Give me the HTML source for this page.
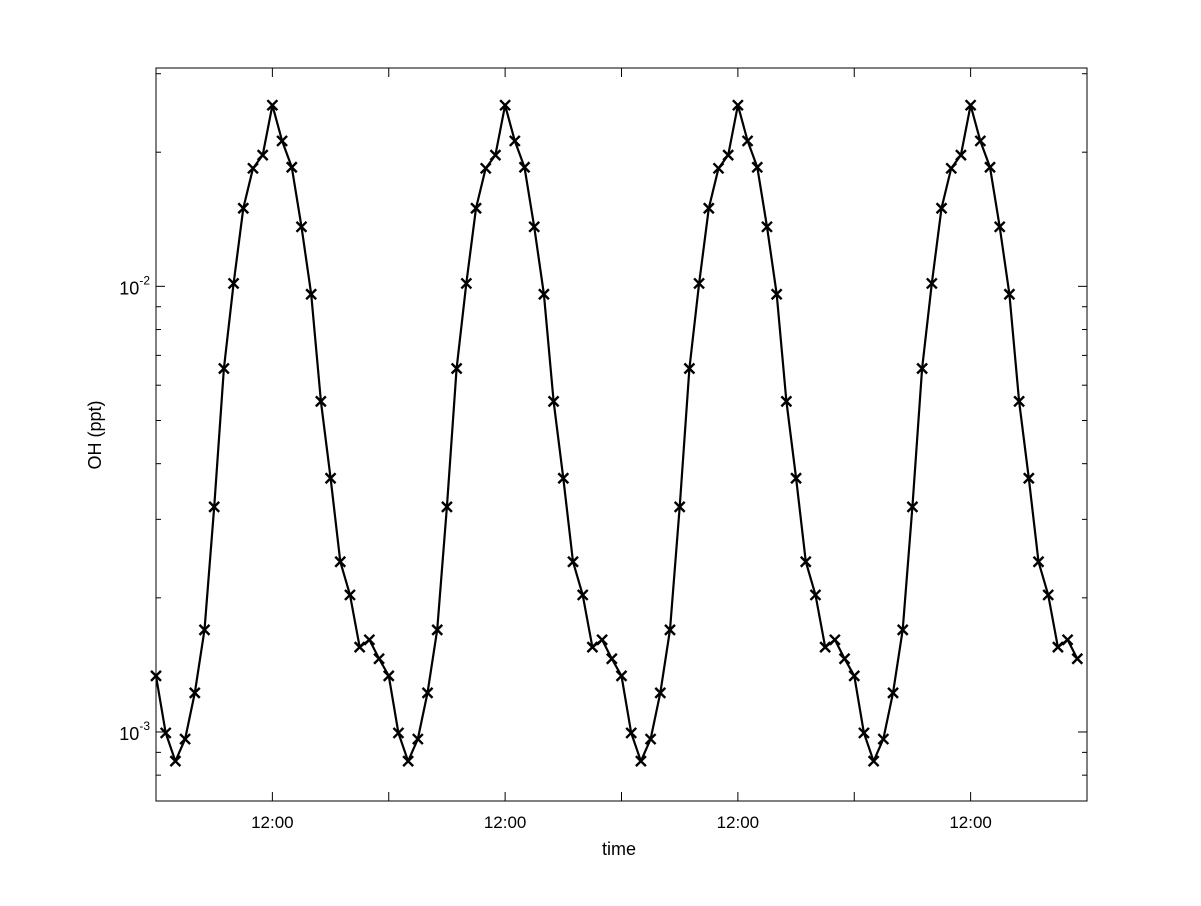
<!DOCTYPE html>
<html><head><meta charset="utf-8"><style>
html,body{margin:0;padding:0;background:#fff;}
svg text{font-family:"Liberation Sans",sans-serif;}
</style></head><body>
<svg id="chart" width="1201" height="901" xmlns="http://www.w3.org/2000/svg">
<rect width="1201" height="901" fill="#fff"/>
<g id="grid"></g>
<g id="series"></g>
<rect x="156" y="68" width="931" height="733" fill="none" stroke="#000" stroke-width="1"/>
<text x="619" y="855" text-anchor="middle" font-size="18">time</text>
<text transform="translate(101,435) rotate(-90)" text-anchor="middle" font-size="18">OH (ppt)</text>
</svg>
<script>
const dayValues = [1.336e-3,9.95e-4,8.6e-4,9.64e-4,1.224e-3,1.695e-3,3.2e-3,6.54e-3,1.015e-2,1.497e-2,1.84e-2,1.97e-2,2.55e-2,2.12e-2,1.85e-2,1.36e-2,9.6e-3,5.52e-3,3.71e-3,2.41e-3,2.03e-3,1.55e-3,1.61e-3,1.46e-3];
const hours = Array.from({length:96},(_, i)=>i);
const ohValues = hours.map(h=>dayValues[h%24]);
const xTickHours = [12,36,60,84];
const xTickLabels = ["12:00","12:00","12:00","12:00"];
const xMinorHours = [24,48,72];
const yMajor = [1e-3,1e-2];
const yMajorExp = ["-3","-2"];
const yMinor = [7e-4,8e-4,9e-4,2e-3,3e-3,4e-3,5e-3,6e-3,7e-3,8e-3,9e-3,2e-2,3e-2];

const L=156,R=1087,T=68,B=801;
const xMin=0,xMax=96;
const logMin=Math.log10(7e-4), logMax=Math.log10(0.0309);
const xS=h=>L+(h-xMin)/(xMax-xMin)*(R-L);
const yS=v=>B-(Math.log10(v)-logMin)/(logMax-logMin)*(B-T);
const NS="http://www.w3.org/2000/svg";
const grid=document.getElementById('grid'), ser=document.getElementById('series');
function mk(tag,attrs,parent){const e=document.createElementNS(NS,tag);for(const k in attrs)e.setAttribute(k,attrs[k]);parent.appendChild(e);return e;}

xTickHours.forEach((h,i)=>{
  const x=xS(h);
  const t1=mk('line',{x1:x,x2:x,y1:B,y2:B-9,stroke:'#000'},grid);
  
  
  const t2=mk('line',{x1:x,x2:x,y1:T,y2:T+9,stroke:'#000'},grid);
  
  
  const tx=mk('text',{x:x,y:B+27,'text-anchor':'middle','font-size':'17'},grid);
  tx.textContent=xTickLabels[i];
  
  
});
xMinorHours.forEach(h=>{
  const x=xS(h);
  const t1=mk('line',{x1:x,x2:x,y1:B,y2:B-9,stroke:'#000'},grid);
  
  
  const t2=mk('line',{x1:x,x2:x,y1:T,y2:T+9,stroke:'#000'},grid);
  
  
});
yMajor.forEach((v,i)=>{
  const y=yS(v);
  const a=mk('line',{x1:L,x2:L+9,y1:y,y2:y,stroke:'#000'},grid);
  
  
  const b=mk('line',{x1:R,x2:R-9,y1:y,y2:y,stroke:'#000'},grid);
  
  
  const tx=mk('text',{x:L-6,y:y+8,'text-anchor':'end','font-size':'18'},grid);
  tx.innerHTML='10<tspan dy="-10" font-size="12">'+yMajorExp[i]+'</tspan>';
  
  
});
yMinor.forEach(v=>{
  const y=yS(v);
  const a=mk('line',{x1:L,x2:L+5,y1:y,y2:y,stroke:'#000'},grid);
  
  
  const b=mk('line',{x1:R,x2:R-5,y1:y,y2:y,stroke:'#000'},grid);
  
  
});
const pts=hours.map((h,i)=>xS(h).toFixed(1)+','+yS(ohValues[i]).toFixed(1)).join(' ');
const line=mk('polyline',{points:pts,fill:'none',stroke:'#000','stroke-width':'2.2','stroke-linejoin':'round'},ser);


hours.forEach((h,i)=>{
  const x=xS(h),y=yS(ohValues[i]),s=5;
  const m=mk('path',{d:`M${x-s},${y-s}L${x+s},${y+s}M${x-s},${y+s}L${x+s},${y-s}`,stroke:'#000','stroke-width':'2.4',fill:'none'},ser);
  
  
});
</script>
</body></html>
